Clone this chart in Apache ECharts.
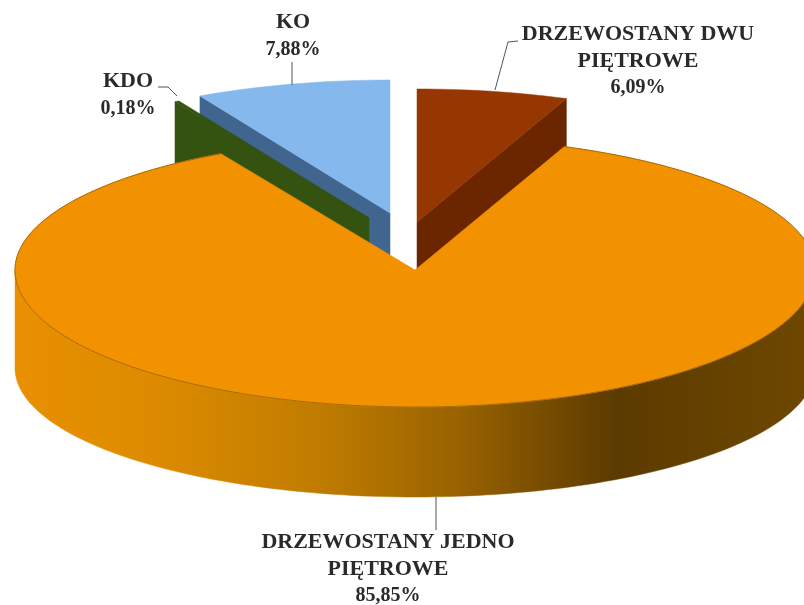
<!DOCTYPE html>
<html><head><meta charset="utf-8">
<style>html,body{margin:0;padding:0;background:#fff}#c{width:804px;height:605px}</style>
<script src="https://cdn.jsdelivr.net/npm/echarts@6/dist/echarts.min.js"></script>
</head><body><div id="c"></div>
<script>
const categories = [['DRZEWOSTANY DWU', 'PIĘTROWE'], ['DRZEWOSTANY JEDNO', 'PIĘTROWE'], ['KDO'], ['KO']];
const percentLabels = ['6,09%', '85,85%', '0,18%', '7,88%'];
const values = [6.09, 85.85, 0.18, 7.88];

const topColors = ['#963600', '#f39200', '#345210', '#85b8ec'];
const wallColors = ['#6b2600', '#f39200', '#345210', '#40658f'];
const layerOrder = [3, 4, 2, 1];
const apexes = [[417, 222], [415, 270], [369, 218], [390, 213]];
const labelAnchors = [[638, 35], [388, 543], [128, 82], [293, 23]];
const leaders = [
  [[518, 41], [508, 42], [495, 90]],
  [[436, 497], [436, 530]],
  [[158, 87], [168, 87], [177, 96]],
  [[292, 62], [292, 85]]
];
const RX = 400, RY_BACK = 133, RY_FRONT = 137, DROP = 98, RY_BOTTOM = 129;
const LINE_STEP = 26.5, CAPS_STRETCH = 1.1;

function pt(apex, deg, lower) {
  const a = deg * Math.PI / 180, s = Math.sin(a), c = Math.cos(a);
  if (lower) return [apex[0] + RX * s, apex[1] + DROP - (c > 0 ? RY_BOTTOM * 0.98 : RY_BOTTOM) * c];
  return [apex[0] + RX * s, apex[1] - (c > 0 ? RY_BACK : RY_FRONT) * c];
}
function arc(apex, d0, d1, lower) {
  const n = Math.max(2, Math.ceil(Math.abs(d1 - d0) / 1.5)), out = [];
  for (let i = 0; i <= n; i++) out.push(pt(apex, d0 + (d1 - d0) * i / n, lower));
  return out;
}
const total = values.reduce((a, b) => a + b, 0);

function renderItem(params, api) {
  const i = params.dataIndex;
  let start = 0;
  for (let k = 0; k < i; k++) start += values[k];
  const d0 = start / total * 360, d1 = (start + api.value(0)) / total * 360;
  const apex = apexes[i], z = layerOrder[i] * 10;
  const children = [];
  const P = (points, fill, zz, stroke) => children.push({
    type: 'polygon', z2: zz, shape: { points },
    style: { fill, stroke: stroke || fill, lineWidth: stroke ? 1 : 0.5 }
  });
  if (i === 1) {
    const lo = Math.max(90, d0), hi = Math.min(270, d1);
    const upper = arc(apex, lo, hi, false), lower = arc(apex, hi, lo, true);
    P(upper.concat(lower), {
      type: 'linear', x: 0, y: 0, x2: 1, y2: 0, colorStops: [
        { offset: 0, color: '#e89000' }, { offset: 0.18, color: '#dc8b00' },
        { offset: 0.38, color: '#c07c00' }, { offset: 0.55, color: '#9a6300' },
        { offset: 0.75, color: '#5c3b00' }, { offset: 1, color: '#6f4800' }
      ]
    }, z);
    P([apex].concat(arc(apex, d0, d1, false)), topColors[i], z + 1);
    children.push({
      type: 'polyline', z2: z + 2, shape: { points: arc(apex, d0, d1, false) },
      style: { fill: null, stroke: '#a86a08', lineWidth: 1 }
    });
  } else {
    const edge = (i === 0) ? d1 : d0;
    const o = pt(apex, edge, false), ol = [o[0], o[1] + DROP];
    P([apex, o, ol, [apex[0], apex[1] + DROP]], wallColors[i], z);
    P([apex].concat(arc(apex, d0, d1, false)), topColors[i], z + 1);
  }
  const lines = categories[i].concat([percentLabels[i]]);
  const anchor = labelAnchors[i];
  lines.forEach((line, n) => {
    const isPct = n === lines.length - 1;
    children.push({
      type: 'text', z2: 60,
      x: anchor[0], y: anchor[1] + n * LINE_STEP,
      scaleX: isPct ? 1 : CAPS_STRETCH,
      style: {
        x: 0, y: 0, text: line, align: 'center', verticalAlign: 'middle',
        font: 'bold 20px "Liberation Serif", serif', fill: '#2a2a2a'
      }
    });
  });
  children.push({
    type: 'polyline', z2: 59, shape: { points: leaders[i] },
    style: { fill: null, stroke: '#4c5560', lineWidth: 1 }
  });
  return { type: 'group', children };
}

const chart = echarts.init(document.getElementById('c'), null, { renderer: 'canvas' });
chart.setOption({
  backgroundColor: '#ffffff',
  animation: false,
  series: [{
    type: 'custom', coordinateSystem: 'none', renderItem,
    data: values.map(v => [v]), silent: true
  }]
});
</script></body></html>
